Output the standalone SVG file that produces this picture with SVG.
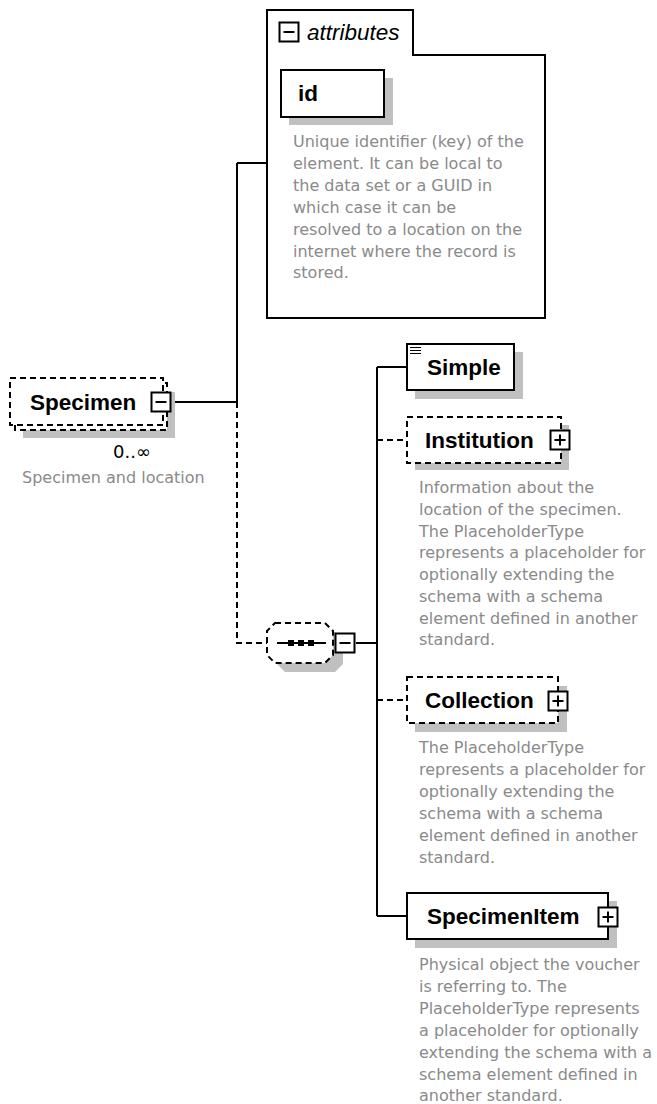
<svg xmlns="http://www.w3.org/2000/svg" width="657" height="1104" viewBox="0 0 657 1104">
<style>
.box{fill:#fff;stroke:#000;stroke-width:2}
.dbox{fill:#fff;stroke:#000;stroke-width:2;stroke-dasharray:6 4}
.shadow{fill:#c0c0c0}
.line{fill:none;stroke:#000;stroke-width:2}
.dline{fill:none;stroke:#000;stroke-width:2;stroke-dasharray:6 4}
.icon{fill:#fff;stroke:#000;stroke-width:2}
.label{font-family:"Liberation Sans",Arial,sans-serif;font-weight:bold;font-size:22.5px;fill:#000}
.desc{font-family:"DejaVu Sans",Verdana,sans-serif;font-size:16px;fill:#8a8a8a}
.ital{font-family:"Liberation Sans",Arial,sans-serif;font-style:italic;font-size:22.5px;fill:#000}
.occ{font-family:"DejaVu Sans",Verdana,sans-serif;font-size:18px;fill:#000}
</style>
<defs>
<g id="minus"><rect class="icon" x="0" y="0" width="19" height="19"/><path class="line" d="M4 9.5H15"/></g>
<g id="plus"><rect class="icon" x="0" y="0" width="19" height="19"/><path class="line" d="M4 9.5H15M9.5 4V15"/></g>
</defs>

<g id="connectors">
<path class="line" d="M237 163H267M237 163V402M172 402H237"/>
<path class="dline" d="M237 402V643H267"/>
<path class="line" d="M356 643H377M377 367V916M377 367H407M377 916H407"/>
<path class="dline" d="M377 440H407M377 700H407"/>
</g>

<g id="attributes">
<path class="box" d="M267 10H413V55H545V318H267Z"/>
<use href="#minus" x="279.5" y="22.5"/>
<text class="ital" x="307" y="40">attributes</text>
</g>

<g id="id">
<rect class="shadow" x="289" y="78" width="104" height="47"/>
<rect class="box" x="281" y="70" width="103" height="47"/>
<text class="label" x="298" y="101">id</text>
<text class="desc" x="293" y="147">Unique identifier (key) of the</text>
<text class="desc" x="293" y="169">element. It can be local to</text>
<text class="desc" x="293" y="191">the data set or a GUID in</text>
<text class="desc" x="293" y="213">which case it can be</text>
<text class="desc" x="293" y="235">resolved to a location on the</text>
<text class="desc" x="293" y="257">internet where the record is</text>
<text class="desc" x="293" y="278">stored.</text>
</g>

<g id="Specimen">
<rect class="shadow" x="23" y="392" width="152" height="46"/>
<rect class="dbox" x="15" y="383" width="152" height="47"/>
<rect class="dbox" x="10" y="378" width="153" height="47"/>
<text class="label" x="30" y="410">Specimen</text>
<use href="#minus" x="151.5" y="392.5"/>
<text class="occ" x="113" y="458">0..∞</text>
<text class="desc" x="22" y="483">Specimen and location</text>
</g>

<g id="sequence">
<path class="shadow" d="M285 632H335L343 640V664L335 672H285L277 664V640Z"/>
<path class="dbox" d="M275 623H325L333 631V655L325 663H275L267 655V631Z"/>
<path class="line" d="M277 643H326"/>
<rect x="288" y="640" width="6" height="6" fill="#000"/>
<rect x="298" y="640" width="6" height="6" fill="#000"/>
<rect x="308" y="640" width="6" height="6" fill="#000"/>
<use href="#minus" x="335.5" y="633.5"/>
</g>

<g id="Simple">
<rect class="shadow" x="415" y="352" width="108" height="47"/>
<rect class="box" x="407" y="344" width="107" height="46"/>
<path d="M410 347.5H421M410 350.5H421M410 353.5H421" stroke="#000" stroke-width="1.2"/>
<text class="label" x="427" y="375">Simple</text>
</g>

<g id="Institution">
<rect class="shadow" x="415" y="425" width="154" height="45"/>
<rect class="dbox" x="407" y="417" width="154" height="46"/>
<text class="label" x="425" y="448">Institution</text>
<use href="#plus" x="550.5" y="430.5"/>
<text class="desc" x="419" y="493">Information about the</text>
<text class="desc" x="419" y="515">location of the specimen.</text>
<text class="desc" x="419" y="537">The PlaceholderType</text>
<text class="desc" x="419" y="558">represents a placeholder for</text>
<text class="desc" x="419" y="580">optionally extending the</text>
<text class="desc" x="419" y="602">schema with a schema</text>
<text class="desc" x="419" y="624">element defined in another</text>
<text class="desc" x="419" y="645">standard.</text>
</g>

<g id="Collection">
<rect class="shadow" x="415" y="686" width="152" height="46"/>
<rect class="dbox" x="407" y="677" width="151" height="46"/>
<text class="label" x="425" y="708">Collection</text>
<use href="#plus" x="548.5" y="691.5"/>
<text class="desc" x="419" y="753">The PlaceholderType</text>
<text class="desc" x="419" y="775">represents a placeholder for</text>
<text class="desc" x="419" y="797">optionally extending the</text>
<text class="desc" x="419" y="819">schema with a schema</text>
<text class="desc" x="419" y="841">element defined in another</text>
<text class="desc" x="419" y="863">standard.</text>
</g>

<g id="SpecimenItem">
<rect class="shadow" x="415" y="901" width="202" height="47"/>
<rect class="box" x="407" y="893" width="201" height="46"/>
<text class="label" x="427" y="924">SpecimenItem</text>
<use href="#plus" x="598.5" y="907.5"/>
<text class="desc" x="419" y="970">Physical object the voucher</text>
<text class="desc" x="419" y="992">is referring to. The</text>
<text class="desc" x="419" y="1014">PlaceholderType represents</text>
<text class="desc" x="419" y="1036">a placeholder for optionally</text>
<text class="desc" x="419" y="1058">extending the schema with a</text>
<text class="desc" x="419" y="1080">schema element defined in</text>
<text class="desc" x="419" y="1101">another standard.</text>
</g>
</svg>
